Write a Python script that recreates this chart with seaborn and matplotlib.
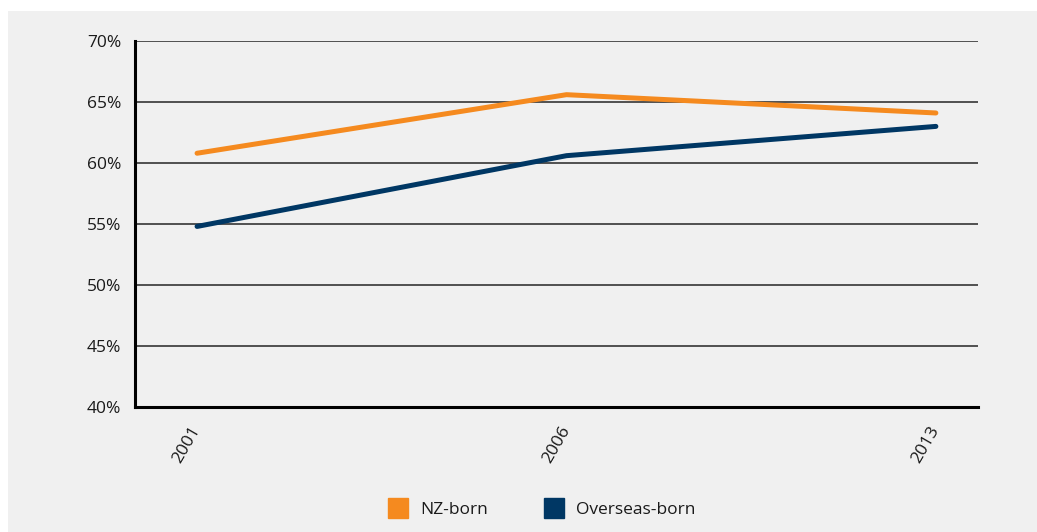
import matplotlib
matplotlib.use("Agg")
import matplotlib.pyplot as plt
from matplotlib.patches import Rectangle
from matplotlib.lines import Line2D
from matplotlib.ticker import FuncFormatter
import pandas as pd
import seaborn as sns

years = ["2001", "2006", "2013"]
nz_born = [60.8, 65.6, 64.1]
overseas_born = [54.8, 60.6, 63.0]
series_names = ["NZ-born", "Overseas-born"]
colors = ["#F58A1F", "#003764"]
y_ticks = [40, 45, 50, 55, 60, 65, 70]

df = pd.DataFrame({
    "year": years * 2,
    "value": nz_born + overseas_born,
    "group": [series_names[0]] * len(years) + [series_names[1]] * len(years),
})

sns.set_theme(style="white")
plt.rcParams["font.family"] = ["Open Sans", "DejaVu Sans"]
FS = 12.5

W, H = 1037, 532
fig = plt.figure(figsize=(W / 100, H / 100), dpi=100)
fig.patch.set_facecolor("white")
bg = "#F0F0F0"
fig.patches.append(Rectangle((8 / W, 0), 1, 1 - 11 / H, transform=fig.transFigure,
                             facecolor=bg, edgecolor="none", zorder=-10))

ax = fig.add_axes([135 / W, 1 - 407 / H, (978 - 135) / W, (407 - 41) / H])
ax.set_facecolor(bg)

sns.lineplot(data=df, x="year", y="value", hue="group", palette=colors,
             hue_order=series_names, linewidth=3.6, legend=False, ax=ax,
             solid_capstyle="round", zorder=3)

ax.set_ylim(40, 70)
ax.set_xlim(-0.168, 2.114)
ax.set_yticks(y_ticks)
ax.yaxis.set_major_formatter(FuncFormatter(lambda v, _: f"{v:.0f}%"))
ax.yaxis.grid(True, color="#444444", linewidth=1.3)
ax.set_axisbelow(True)
ax.set_xlabel("")
ax.set_ylabel("")

for s in ["top", "right"]:
    ax.spines[s].set_visible(False)
ax.spines["left"].set_color("black")
ax.spines["left"].set_linewidth(2.2)
ax.spines["bottom"].set_color("black")
ax.spines["bottom"].set_linewidth(2.2)

ax.tick_params(axis="y", length=0, pad=10, labelsize=FS, labelcolor="#1a1a1a")
ax.tick_params(axis="x", length=7, width=2, color="black", direction="out",
               pad=8, labelsize=FS, labelcolor="#1a1a1a")
for lbl in ax.get_xticklabels():
    lbl.set_rotation(60)
    lbl.set_ha("right")
    lbl.set_va("center")
    lbl.set_rotation_mode("anchor")

handles = [Line2D([0], [0], marker="s", linestyle="none", markersize=14,
                  markerfacecolor=c, markeredgecolor=c) for c in colors]
fig.legend(handles, series_names, loc="center", bbox_to_anchor=(0.519, 0.0414),
           ncol=2, frameon=False, fontsize=FS, columnspacing=2.84,
           handletextpad=0.25, labelcolor="#1a1a1a", borderpad=0)

fig.savefig("out.png", dpi=100, facecolor="white")
